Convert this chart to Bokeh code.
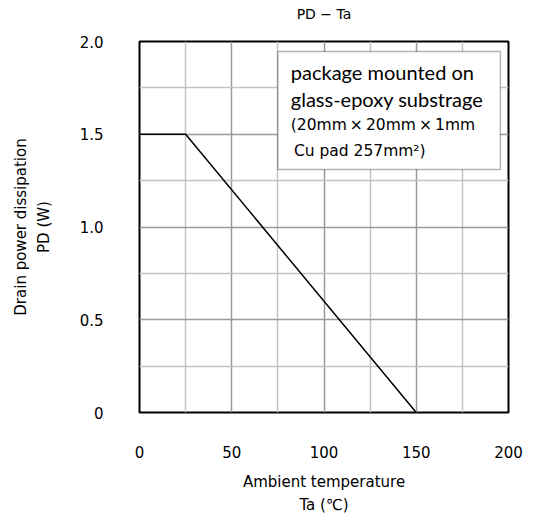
from bokeh.plotting import figure
from bokeh.models import FixedTicker, BoxAnnotation, Label, LinearAxis
from bokeh.embed import file_html
from bokeh.resources import INLINE

# data
temp = [0, 25, 150]
pd_w = [1.5, 1.5, 0.0]
x_ticks = [0, 50, 100, 150, 200]
x_minor = [25, 75, 125, 175]
y_ticks = [0, 0.5, 1.0, 1.5, 2.0]
y_minor = [0.25, 0.75, 1.25, 1.75]
y_tick_labels = ["0", "0.5", "1.0", "1.5", "2.0"]
title_text = "PD \u2212 Ta"
note_lines = ["package mounted on", "glass-epoxy substrage",
              "(20mm\u2009\u00d7\u200920mm\u2009\u00d7\u20091mm", "\u2009Cu pad 257mm\u00b2)"]

F = "DejaVu Sans"

p = figure(width=535, height=518, x_range=(0, 200), y_range=(0, 2.0),
           output_backend="svg", toolbar_location=None,
           min_border_left=139, min_border_right=27, min_border_top=41, min_border_bottom=106)

p.outline_line_color = "black"
p.outline_line_width = 2

p.xaxis.ticker = FixedTicker(ticks=x_ticks, minor_ticks=x_minor)
p.yaxis.ticker = FixedTicker(ticks=y_ticks, minor_ticks=y_minor)
p.yaxis.major_label_overrides = dict(zip(y_ticks, y_tick_labels))

for ax in (p.xaxis[0], p.yaxis[0]):
    ax.axis_line_color = None
    ax.major_tick_line_color = None
    ax.minor_tick_line_color = None
    ax.major_label_text_font = F
    ax.major_label_text_font_size = "15px"
    ax.major_label_text_color = "black"
    ax.axis_label_text_font = F
    ax.axis_label_text_font_size = "15px"
    ax.axis_label_text_font_style = "normal"
    ax.axis_label_text_color = "black"
    ax.axis_label_text_line_height = 1.28

p.xaxis.major_label_standoff = 27
p.yaxis.major_label_standoff = 30
p.xaxis.axis_label = "Ambient temperature\nTa (\u2103)"
p.yaxis.axis_label = "Drain power dissipation\nPD (W)"
p.xaxis.axis_label_standoff = 12
p.yaxis.axis_label_standoff = 24

# title as the label of an empty axis above the frame
top_axis = LinearAxis(ticker=FixedTicker(ticks=[]), axis_label=title_text,
                      axis_line_color=None, major_tick_line_color=None,
                      minor_tick_line_color=None, major_tick_out=0, minor_tick_out=0,
                      major_label_standoff=0, axis_label_standoff=20,
                      axis_label_text_font=F, axis_label_text_font_size="14px",
                      axis_label_text_font_style="normal", axis_label_text_color="black")
p.add_layout(top_axis, "above")

p.xgrid.grid_line_color = "#9a9a9a"
p.ygrid.grid_line_color = "#9a9a9a"
p.xgrid.minor_grid_line_color = "#c4c4c4"
p.ygrid.minor_grid_line_color = "#c4c4c4"
p.xgrid.grid_line_width = 1.5
p.ygrid.grid_line_width = 1.5
p.xgrid.minor_grid_line_width = 1.5
p.ygrid.minor_grid_line_width = 1.5

p.line(temp, pd_w, line_color="black", line_width=1.5)

box = BoxAnnotation(left=75, right=195.6, top=1.946, bottom=1.31,
                    fill_color="white", fill_alpha=1, line_color="black", line_width=1.5)
p.add_layout(box)

ys = [1.835, 1.69, 1.548, 1.412]
fonts = ["Lato", "Lato", F, F]
sizes = ["20px", "20px", "15.5px", "15.5px"]
for t, y, f, s in zip(note_lines, ys, fonts, sizes):
    p.add_layout(Label(x=82, y=y, text=t, text_font=f, text_font_size=s,
                       text_baseline="middle", text_color="black"))

open("out.html", "w").write(file_html(p, INLINE))
